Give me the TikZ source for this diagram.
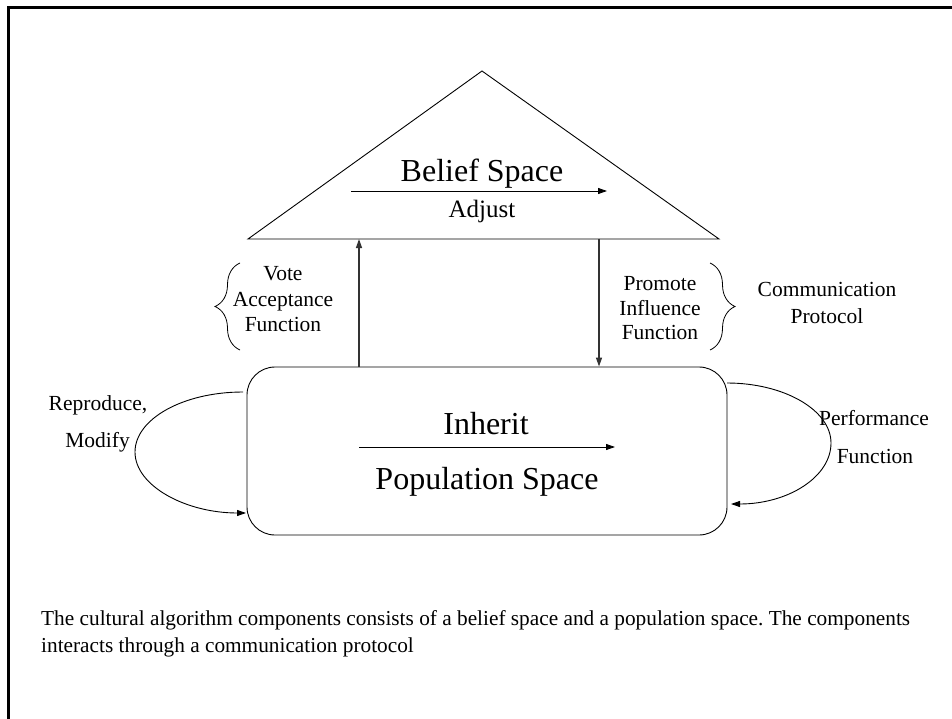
\documentclass[tikz,border=0pt]{standalone}
\usepackage{fontspec}
\setmainfont{Liberation Serif}
\usetikzlibrary{arrows.meta,decorations.pathreplacing}
\frenchspacing
\begin{document}
\begin{tikzpicture}[x=1pt,y=-1pt,
  outline/.style={line width=0.9pt},
  arr/.style={-{Triangle[length=9pt,width=6pt]}, line width=0.9pt},
  varr/.style={-{Triangle[length=9pt,width=6pt]}, line width=1.3pt, draw=black!80, fill=black!80},
  lbl/.style={font=\fontsize{21.5}{25.5}\selectfont, align=center, inner sep=0pt},
  big/.style={font=\fontsize{32}{36}\selectfont, inner sep=0pt, anchor=base},
  curly/.style={decorate, decoration={brace, amplitude=25pt}, line width=0.8pt}]
\useasboundingbox (0,0) rectangle (952,719);
% frame
\draw[line width=3pt] (8,719) -- (8,8) -- (952,8);
% belief space triangle
\coordinate (apex) at (482,71);
\coordinate (bl) at (248,239);
\coordinate (br) at (719,239);
\draw[outline] (bl) -- (apex) -- (br) -- cycle;
\node[big] (belief) at (482,182) {Belief Space};
\coordinate (adjA) at (351,191);
\coordinate (adjB) at (607,191);
\draw[arr] (adjA) -- (adjB);
\node[font=\fontsize{25}{30}\selectfont, inner sep=0pt, anchor=base] (adjust) at (482,218) {Adjust};
% population space
\node[draw, outline, rounded corners=28pt, minimum width=480pt, minimum height=168pt, inner sep=0pt] (pop) at (487,451) {};
\node[big] (inherit) at (486,434) {Inherit};
\coordinate (inhA) at (359,447);
\coordinate (inhB) at (615,447);
\draw[arr] (inhA) -- (inhB);
\node[big] (popname) at (487,489) {Population Space};
% vertical connectors
\coordinate (vtop) at (359,239);
\coordinate (ptop) at (599,239);
\draw[varr] (vtop |- pop.north) -- (vtop);
\draw[varr] (ptop) -- (ptop |- pop.north);
% braces and labels
\draw[curly] (240,350) -- (240,263);
\draw[curly] (710,263) -- (710,350);
\node[lbl] (vote) at (283,299.5) {Vote\\Acceptance\\Function};
\node[lbl, font=\fontsize{21.5}{24.5}\selectfont] (promote) at (660,308.5) {Promote\\Influence\\Function};
\node[lbl, font=\fontsize{21.5}{26.5}\selectfont] (comm) at (827,303) {Communication\\Protocol};
% loops
\coordinate (rA) at (243,392);
\coordinate (rB) at (246,513);
\draw[arr] (rA) .. controls (183,392) and (135,419) .. (135,452) .. controls (135,486) and (186,513) .. (rB);
\coordinate (pA) at (727,383);
\coordinate (pB) at (731,504);
\draw[arr] (pA) .. controls (784,383) and (831,410) .. (831,443) .. controls (831,477) and (788,504) .. (pB);
\node[lbl, anchor=base] (repro) at (98,410) {Reproduce,};
\node[lbl, anchor=base] (modify) at (97.5,447) {Modify};
\node[lbl, anchor=base] (perf) at (874,425) {Performance};
\node[lbl, anchor=base] (func) at (875,463) {Function};
% caption
\node[anchor=north west, inner sep=0pt, font=\fontsize{21.3}{27}\selectfont, align=left] (caption) at (41,610.3) {The cultural algorithm components consists of a belief space and a population space. The components\\interacts through a communication protocol};
\end{tikzpicture}
\end{document}
